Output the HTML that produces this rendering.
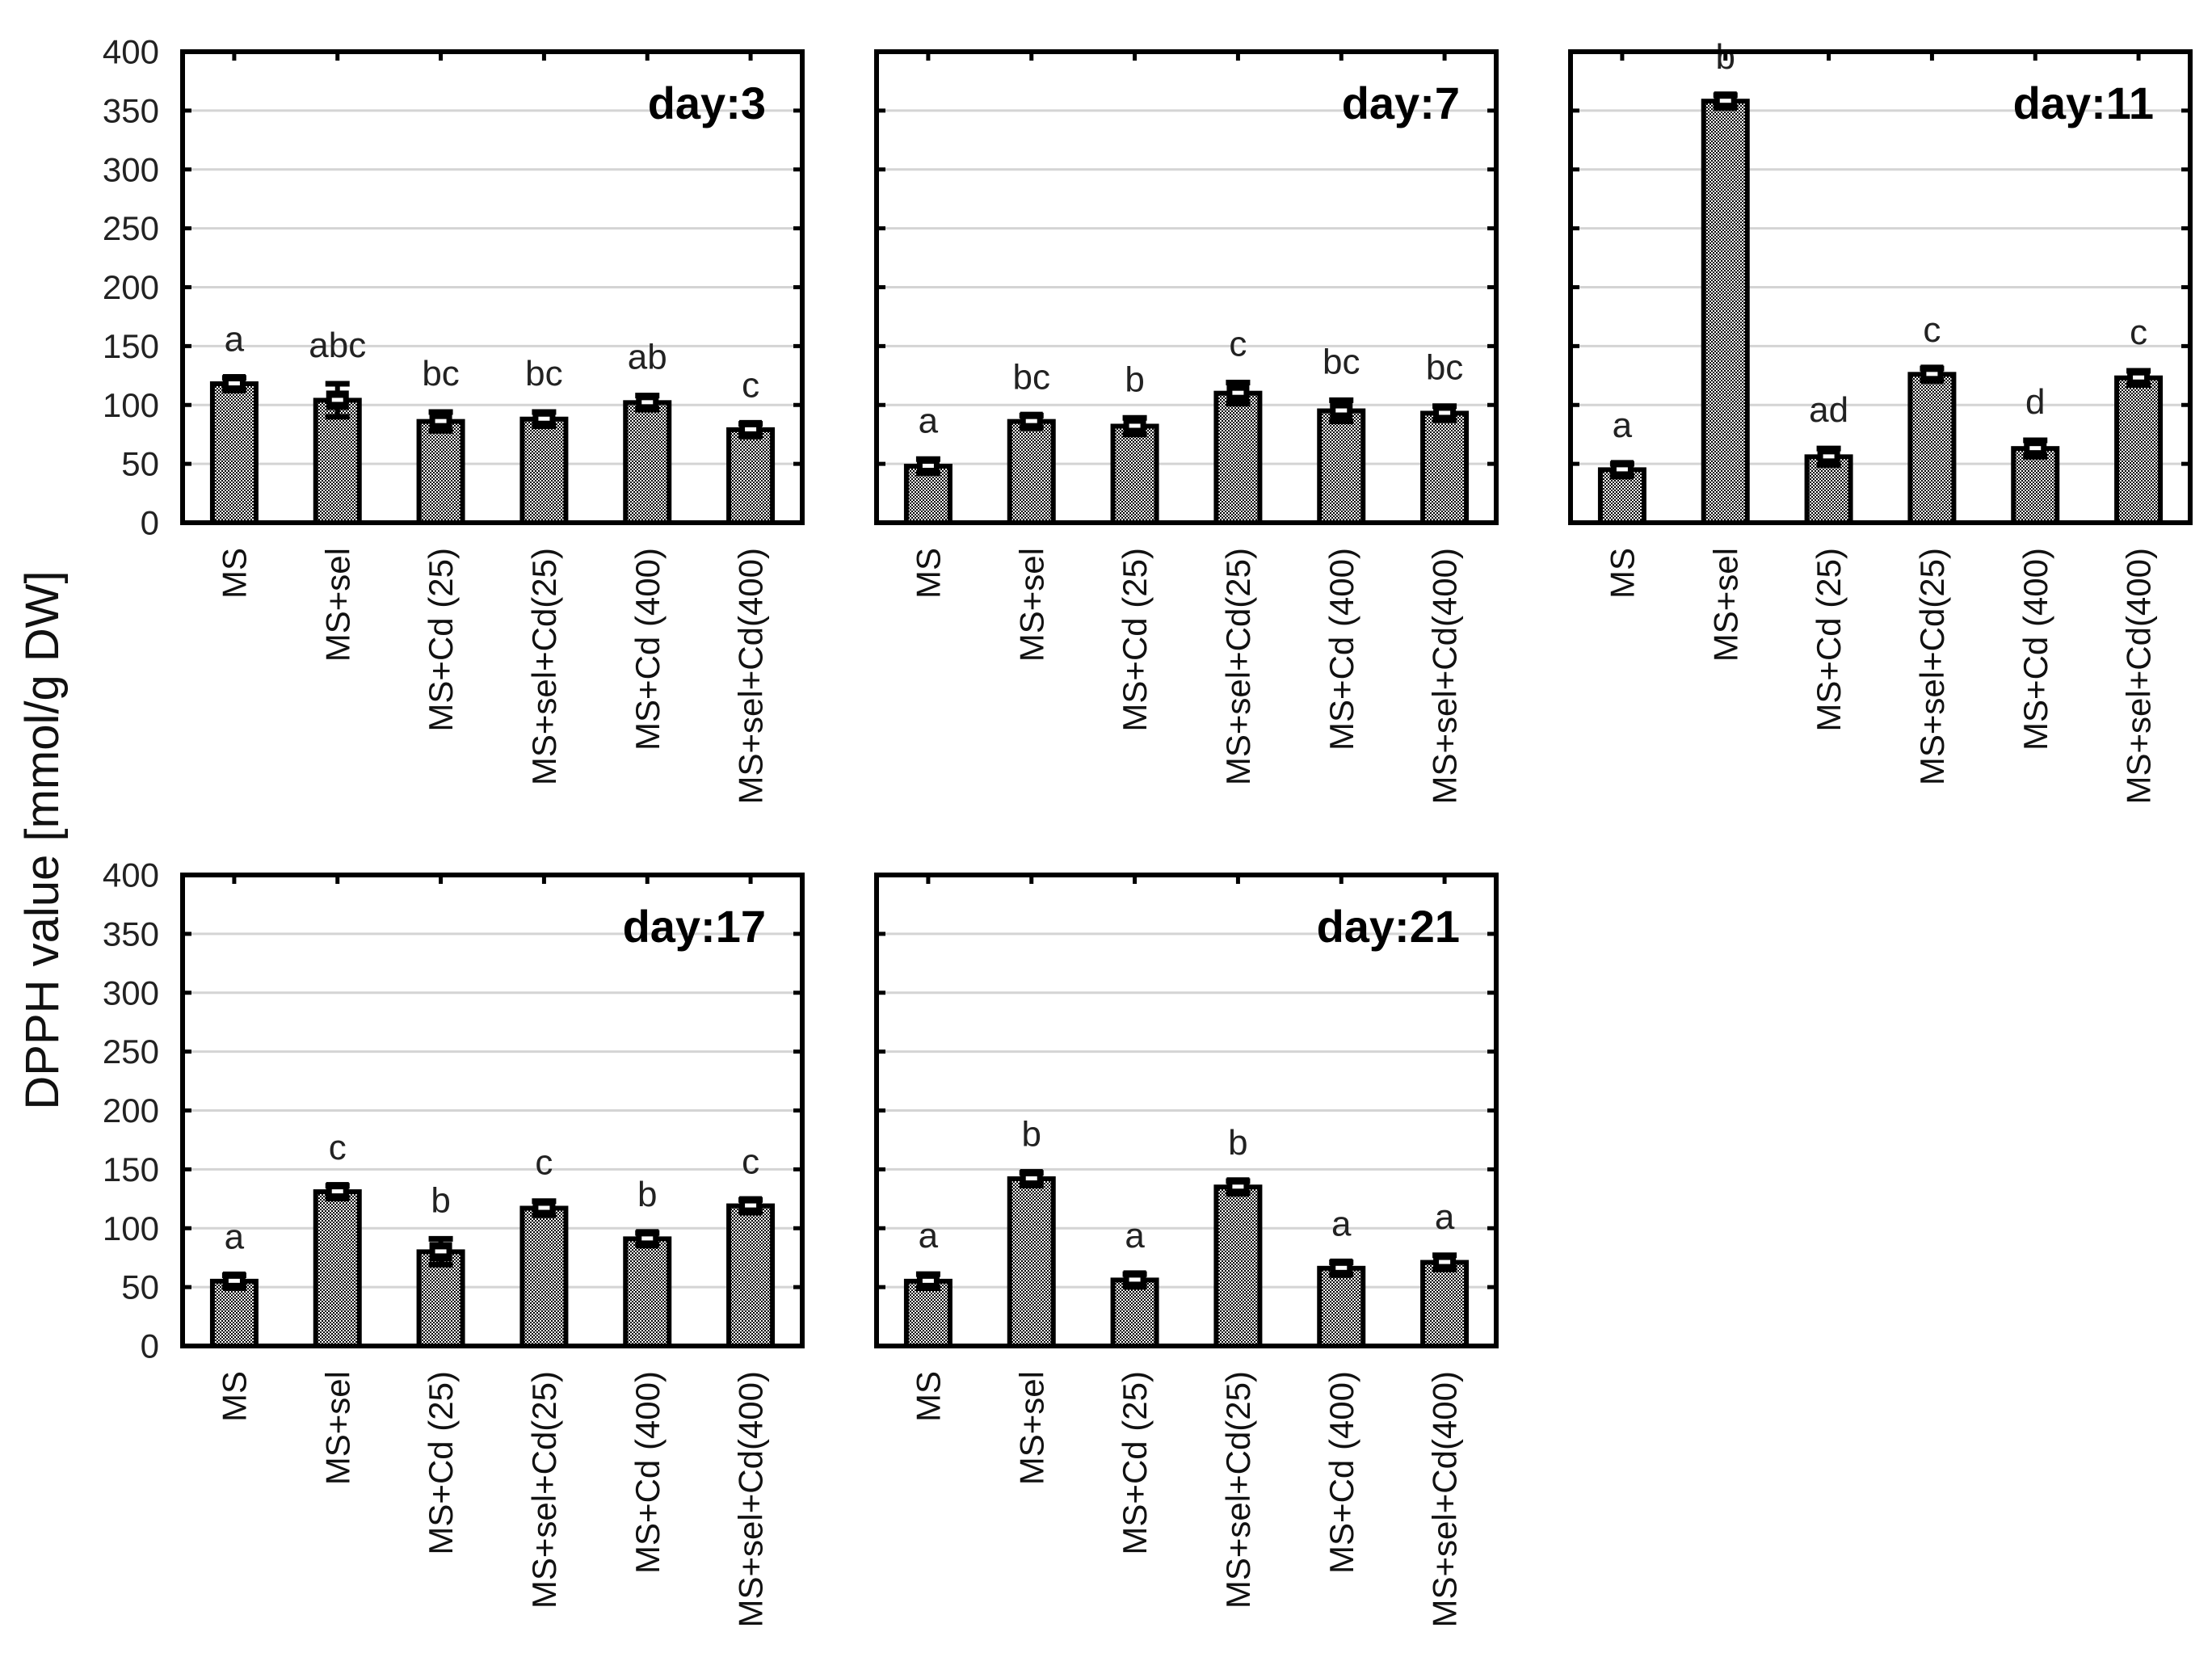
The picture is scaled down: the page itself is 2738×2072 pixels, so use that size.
<!DOCTYPE html>
<html><head><meta charset="utf-8"><style>
html,body{margin:0;padding:0;background:#fff}
svg{display:block}
text{font-family:"Liberation Sans",Arial,sans-serif}
</style></head><body>
<svg id="chart" width="2738" height="2072" viewBox="0 0 2738 2072" xmlns="http://www.w3.org/2000/svg">
<defs>
<pattern id="chk" width="4" height="4" patternUnits="userSpaceOnUse">
<rect width="4" height="4" fill="#fff"/>
<rect width="2" height="2" fill="#000"/>
<rect x="2" y="2" width="2" height="2" fill="#000"/>
</pattern>
</defs>
<text x="0" y="0" transform="translate(72,1040) rotate(-90)" text-anchor="middle" font-size="58" fill="#111">DPPH value [mmol/g DW]</text>
</svg>
<script>
const categories = ["MS","MS+sel","MS+Cd (25)","MS+sel+Cd(25)","MS+Cd (400)","MS+sel+Cd(400)"];
const yTicks = [0,50,100,150,200,250,300,350,400];
const panelTitles = ["day:3","day:7","day:11","day:17","day:21"];
const day3 = [118,104,86,88,102,79];
const day7 = [48,86,82,110,95,93];
const day11 = [45,358,56,126,63,123];
const day17 = [55,131,80,117,91,119];
const day21 = [55,142,56,135,66,71];
const err3 = [5,14,8,6,6,5];
const err7 = [6,5,7,9,9,6];
const err11 = [5,5,7,5,7,6];
const err17 = [5,5,11,6,5,5];
const err21 = [6,5,5,5,5,6];
const let3 = ["a","abc","bc","bc","ab","c"];
const let7 = ["a","bc","b","c","bc","bc"];
const let11 = ["a","b","ad","c","d","c"];
const let17 = ["a","c","b","c","b","c"];
const let21 = ["a","b","a","b","a","a"];

const series = [day3,day7,day11,day17,day21];
const errs = [err3,err7,err11,err17,err21];
const lets = [let3,let7,let11,let17,let21];
const NS = "http://www.w3.org/2000/svg";
const svg = document.getElementById('chart');
const lefts = [226,1085,1944,226,1085];
const tops = [64,64,64,1083,1083];
const W = 767, H = 583, YMAX = 400;

function mk(tag, attrs, parent){
  const e = document.createElementNS(NS, tag);
  for (const k in attrs) e.setAttribute(k, attrs[k]);
  (parent||svg).appendChild(e);
  return e;
}

for (let p = 0; p < 5; p++) {
  const L = lefts[p], T = tops[p];
  const yS = v => T + H - v / YMAX * H;
  const xS = i => L + (i + 0.5) * (W / categories.length);
  const g = mk('g', {});
  
  
  yTicks.forEach(t => {
    if (t === 0 || t === YMAX) return;
    const ln = mk('line', {x1:L, x2:L+W, y1:yS(t), y2:yS(t), stroke:'#d4d4d4', 'stroke-width':3}, g);
    
    
  });
  yTicks.forEach(t => {
    const y = yS(t);
    mk('line', {x1:L, x2:L+11, y1:y, y2:y, stroke:'#000', 'stroke-width':5}, g);
    mk('line', {x1:L+W-11, x2:L+W, y1:y, y2:y, stroke:'#000', 'stroke-width':5}, g);
    if (L < 500) {
      const tx = mk('text', {x:L-29, y:y, 'text-anchor':'end', 'dominant-baseline':'central', 'font-size':42, fill:'#222'}, g);
      tx.textContent = t;
      
      
    }
  });
  const vals = series[p], er = errs[p], lt = lets[p];
  vals.forEach((v, i) => {
    const cx = xS(i);
    const bar = mk('rect', {x:cx-27, y:yS(v), width:54, height:yS(0)-yS(v), fill:'url(#chk)', stroke:'#000', 'stroke-width':6}, g);
    
    
    const eTop = yS(v + er[i]), eBot = yS(v - er[i]);
    const eb = mk('g', {}, g);
    
    
    mk('line', {x1:cx, x2:cx, y1:eTop, y2:eBot, stroke:'#000', 'stroke-width':6}, eb);
    mk('line', {x1:cx-15, x2:cx+15, y1:eTop, y2:eTop, stroke:'#000', 'stroke-width':7}, eb);
    mk('line', {x1:cx-15, x2:cx+15, y1:eBot, y2:eBot, stroke:'#000', 'stroke-width':7}, eb);
    mk('rect', {x:cx-14, y:yS(v)-12, width:28, height:24, fill:'#000'}, eb);
    mk('rect', {x:cx-7, y:yS(v)-3, width:14, height:5, fill:'#fff'}, eb);
    const lb = mk('text', {x:cx, y:eTop-33, 'text-anchor':'middle', 'font-size':44, fill:'#222'}, g);
    lb.textContent = lt[i];
    
    
    mk('line', {x1:cx, x2:cx, y1:T, y2:T+11, stroke:'#000', 'stroke-width':5}, g);
    const xl = mk('text', {x:0, y:0, transform:'translate('+cx+','+(T+H+31)+') rotate(-90)', 'text-anchor':'end', 'dominant-baseline':'central', 'font-size':42, fill:'#111'}, g);
    xl.textContent = categories[i];
    
    
  });
  const fr = mk('rect', {x:L, y:T, width:W, height:H, fill:'none', stroke:'#000', 'stroke-width':6}, g);
  
  
  const tt = mk('text', {x:L+W-45, y:T+83, 'text-anchor':'end', 'font-size':56, 'font-weight':'bold', fill:'#000'}, g);
  tt.textContent = panelTitles[p];
  
  
}
</script>
</body></html>
